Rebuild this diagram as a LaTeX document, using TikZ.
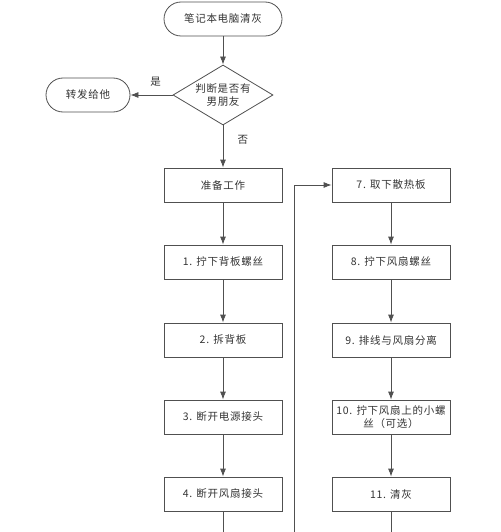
\documentclass[tikz,border=0pt]{standalone}
\usepackage{fontspec}
\newfontfamily\cjk[LetterSpace=7]{Noto Sans CJK SC}
\usetikzlibrary{arrows.meta,shapes.geometric}
\definecolor{ln}{HTML}{505050}
\definecolor{tx}{HTML}{333333}
\begin{document}
\begin{tikzpicture}[x=1pt,y=-1pt,
  every node/.style={font=\cjk\fontsize{10.5}{13}\selectfont, text=tx},
  box/.style={draw=ln, line width=0.8pt, minimum width=118pt, minimum height=34pt, inner sep=1pt, align=center},
  term/.style={draw=ln, line width=0.8pt, rounded corners=17pt, minimum height=34pt, inner sep=1pt},
  dec/.style={draw=ln, line width=0.8pt, diamond, minimum width=100pt, minimum height=60pt, aspect=1.67, inner sep=0pt, align=center},
  arr/.style={draw=ln, line width=0.8pt, -{Latex[length=8pt,width=6pt]}},
  ln2/.style={draw=ln, line width=0.8pt}]
\useasboundingbox (0,0) rectangle (500,532);
\node[term, minimum width=118pt] (start) at (223,19) {笔记本电脑清灰};
\node[dec] (d) at (223,95) {判断是否有\\男朋友};
\node[term, minimum width=84pt] (fw) at (88,95) {转发给他};
\node[box] (p) at (223,185) {准备工作};
\node[box] (s1) at (223,262) {1. 拧下背板螺丝};
\node[box] (s2) at (223,340) {2. 拆背板};
\node[box] (s3) at (223,417) {3. 断开电源接头};
\node[box] (s4) at (223,494) {4. 断开风扇接头};
\node[box] (s7) at (391,185) {7. 取下散热板};
\node[box] (s8) at (391,262) {8. 拧下风扇螺丝};
\node[box] (s9) at (391,340) {9. 排线与风扇分离};
\node[box] (s10) at (391,417) {10. 拧下风扇上的小螺\\丝（可选）};
\node[box] (s11) at (391,494) {11. 清灰};
\coordinate (e4) at (223,532);
\coordinate (e11) at (391,532);
\coordinate (eL) at (294,532);
\draw[arr] (start) -- (d);
\draw[arr] (d) -- (fw) node[pos=0.4, above=5pt] {是};
\draw[arr] (d) -- (p) node[pos=0.35, right=11pt] {否};
\draw[arr] (p) -- (s1);
\draw[arr] (s1) -- (s2);
\draw[arr] (s2) -- (s3);
\draw[arr] (s3) -- (s4);
\draw[ln2] (s4) -- (e4);
\draw[arr] (s7) -- (s8);
\draw[arr] (s8) -- (s9);
\draw[arr] (s9) -- (s10);
\draw[arr] (s10) -- (s11);
\draw[ln2] (s11) -- (e11);
\draw[arr] (eL) |- (s7.west);
\end{tikzpicture}
\end{document}
